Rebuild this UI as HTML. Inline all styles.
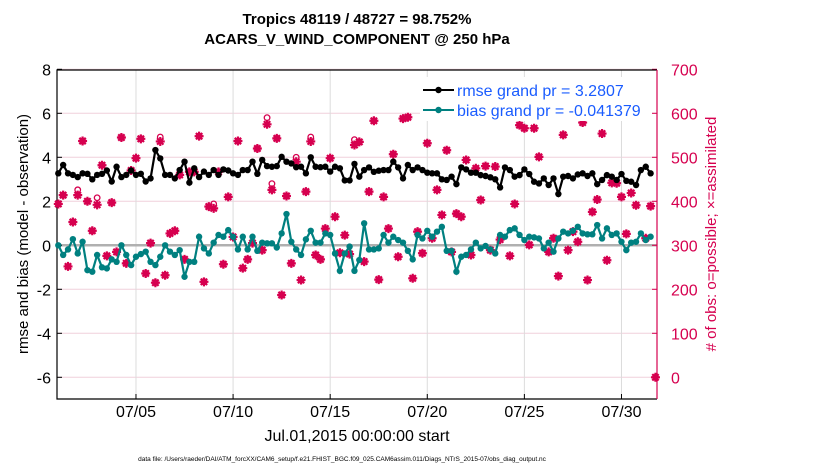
<!DOCTYPE html>
<html><head><meta charset="utf-8"><style>
body{margin:0;background:#fff;}
svg text{font-family:"Liberation Sans",sans-serif;}
</style></head><body>
<svg id="chart" width="830" height="470" xmlns="http://www.w3.org/2000/svg">
<rect width="830" height="470" fill="#fff"/>
<text x="357" y="24" font-size="15" font-weight="bold" text-anchor="middle">Tropics 48119 / 48727 = 98.752%</text>
<text x="357" y="44" font-size="15" font-weight="bold" text-anchor="middle">ACARS_V_WIND_COMPONENT @ 250 hPa</text>
<g id="grid"></g>
<g id="axes"></g>
<g id="marks"></g>
<text transform="translate(28,234) rotate(-90)" font-size="15" text-anchor="middle">rmse and bias (model - observation)</text>
<text transform="translate(716,234) rotate(-90)" font-size="15" fill="#d6004f" text-anchor="middle"># of obs: o=possible; ×=assimilated</text>
<text x="357" y="441" font-size="16" text-anchor="middle">Jul.01,2015 00:00:00 start</text>
<text x="342" y="461" font-size="6.5" text-anchor="middle">data file: /Users/raeder/DAI/ATM_forcXX/CAM6_setup/f.e21.FHIST_BGC.f09_025.CAM6assim.011/Diags_NTrS_2015-07/obs_diag_output.nc</text>
<g id="legend">
<rect x="420" y="77" width="232" height="44" fill="#fff"/>
<line x1="423" y1="90" x2="454" y2="90" stroke="#000" stroke-width="2"/>
<circle cx="438.5" cy="90" r="3.2" fill="#000"/>
<text x="457" y="96" font-size="16" fill="#1a5cff">rmse grand pr = 3.2807</text>
<line x1="423" y1="110" x2="454" y2="110" stroke="#008080" stroke-width="2"/>
<circle cx="438.5" cy="110" r="3.2" fill="#008080"/>
<text x="457" y="116" font-size="16" fill="#1a5cff">bias grand pr = -0.041379</text>
</g>
</svg>
<script>
const rmseValues=[3.27,3.65,3.27,3.2,3.1,3.27,3.25,3.0,3.2,3.25,3.4,2.9,3.57,3.1,3.2,3.4,3.2,3.25,2.9,3.04,4.33,3.95,3.2,3.2,3.04,3.42,3.8,2.85,3.5,3.1,3.35,3.2,3.42,3.2,3.45,3.4,3.27,3.2,3.42,3.42,3.8,3.25,3.88,3.6,3.57,3.6,4.02,3.8,3.72,3.55,3.57,3.27,4.0,3.57,3.55,3.57,3.35,3.57,3.5,2.95,2.95,3.7,
3.12,3.42,3.54,3.34,3.39,3.42,3.42,3.8,3.54,3.04,3.65,3.42,3.54,3.42,3.3,3.27,3.27,3.0,2.97,3.12,2.78,3.54,3.45,3.3,3.3,3.19,3.15,3.09,3.0,2.63,3.54,3.42,3.12,3.19,3.45,3.24,2.89,2.81,3.04,2.74,3.04,2.33,3.12,3.15,3.04,3.22,3.27,3.15,3.27,2.78,2.97,3.19,3.12,2.97,3.24,2.93,2.89,2.74,3.42,3.57,3.27];
const biasValues=[0.0,-0.44,-0.19,0.28,-0.37,0.16,-1.13,-1.2,-0.44,-1.0,-1.05,-0.64,-0.75,0.0,-0.44,-0.9,-0.52,-0.4,-0.29,-0.75,-0.9,-0.52,0.0,-0.29,-0.44,-0.22,-1.43,-0.75,-0.75,0.39,-0.14,-0.37,0.12,0.47,0.39,0.69,0.39,-0.19,0.39,-0.19,0.39,-0.25,0.12,0.09,0.09,-0.1,0.54,1.42,0.16,-0.19,-0.44,0.27,0.66,0.12,0.12,0.54,0.47,-0.37,-1.16,-0.37,-0.06,-1.16,
-0.67,1.0,-0.19,-0.19,-0.14,0.47,0.12,0.39,0.24,0.12,-0.25,-0.64,0.47,0.31,0.66,0.39,0.62,0.84,-0.25,-0.25,-1.2,-0.52,-0.44,-0.19,0.12,-0.14,-0.03,-0.19,-0.37,0.47,0.39,0.69,0.77,0.47,0.24,0.39,0.36,0.31,-0.14,0.12,-0.29,0.31,0.62,0.54,0.66,0.84,0.54,0.5,0.5,0.92,0.31,0.77,0.47,0.54,0.16,-0.22,0.12,0.16,0.54,0.24,0.39];
const obsPossible=[394,414,252,353,426,537,400,333,408,482,276,397,285,545,259,470,498,542,236,305,215,546,232,327,333,460,268,467,467,548,217,388,394,467,257,410,319,537,248,268,305,520,289,590,440,543,187,412,259,500,221,422,546,278,268,338,498,365,283,323,280,540,
535,263,422,583,222,410,338,507,274,588,591,225,331,282,532,316,426,369,516,285,372,365,494,278,475,403,480,289,479,313,623,276,394,573,566,301,566,501,600,285,316,230,551,289,331,308,579,221,376,404,554,266,442,441,410,326,419,391,630,316,389,0];
const obsAssimilated=[394,414,252,353,414,537,400,333,392,482,276,397,285,545,259,470,498,542,236,305,215,536,232,327,333,460,268,467,467,548,217,388,384,467,257,410,319,537,248,268,305,520,289,575,426,543,187,412,259,490,221,422,536,278,268,338,498,365,283,323,280,528,
535,263,422,583,222,410,338,507,274,588,591,225,331,282,532,316,426,369,516,285,372,365,494,278,475,403,480,289,479,313,623,276,394,573,566,301,566,501,600,285,316,230,551,289,331,308,579,221,376,404,554,266,442,441,410,326,419,391,630,316,389,0];
const leftTicks=[8,6,4,2,0,-2,-4,-6];
const rightTicks=[700,600,500,400,300,200,100,0];
const xTickDays=[4,9,14,19,24,29];
const xTickLabels=["07/05","07/10","07/15","07/20","07/25","07/30"];
const stepDays=0.25;

const NS="http://www.w3.org/2000/svg";
const L=57,R=657,T=70,B=399;
function xT(t){return 58.3+19.42*t;}
function yL(v){return 245.3-22*v;}
function yR(n){return 377.3-0.44*n;}
function mk(tag,attrs,parent){const e=document.createElementNS(NS,tag);for(const k in attrs)e.setAttribute(k,attrs[k]);parent.appendChild(e);return e;}
const grid=document.getElementById('grid'),axes=document.getElementById('axes'),marks=document.getElementById('marks');

leftTicks.forEach(v=>{
  const y=yL(v);
  const g=mk('line',{x1:L,x2:R,y1:y,y2:y,stroke:'#f0d0dc','stroke-width':1},grid);
  
  
  const tk=mk('line',{x1:L,x2:L+5,y1:y,y2:y,stroke:'#000'},axes);
  
  
  const tx=mk('text',{x:L-6,y:y+6,'font-size':16,'text-anchor':'end'},axes);
  tx.textContent=v;
  
  
});
rightTicks.forEach(n=>{
  const y=yR(n);
  const tk=mk('line',{x1:R-5,x2:R,y1:y,y2:y,stroke:'#d6004f'},axes);
  
  
  const tx=mk('text',{x:R+14,y:y+6,'font-size':16,fill:'#d6004f'},axes);
  tx.textContent=n;
  
  
});
xTickDays.forEach((d,i)=>{
  const x=xT(d);
  const g=mk('line',{x1:x,x2:x,y1:T,y2:B,stroke:'#dcdcdc'},grid);
  
  
  const tk=mk('line',{x1:x,x2:x,y1:B-5,y2:B,stroke:'#000'},axes);
  
  
  const tx=mk('text',{x:x,y:B+18,'font-size':16,'text-anchor':'middle'},axes);
  tx.textContent=xTickLabels[i];
  
  
});
const zl=mk('line',{x1:L,x2:R,y1:yL(0),y2:yL(0),stroke:'#b0b0b0','stroke-width':2.5},grid);


const ax1=mk('path',{d:`M${R},${T}H${L}V${B}H${R}`,fill:'none',stroke:'#000','stroke-width':1.2},axes);


const ax2=mk('line',{x1:R,x2:R,y1:T,y2:B,stroke:'#d6004f','stroke-width':1.2},axes);



obsPossible.forEach((n,i)=>{
  const x=xT(i*stepDays),y=yR(n);
  const c=mk('circle',{cx:x,cy:y,r:2.8,fill:'none',stroke:'#d6004f','stroke-width':1.3},marks);
  
  
});
obsAssimilated.forEach((n,i)=>{
  const x=xT(i*stepDays),y=yR(n),r=4.5;
  let d='';
  for(let a=0;a<4;a++){const an=a*Math.PI/4;const dx=r*Math.cos(an),dy=r*Math.sin(an);d+=`M${x-dx},${y-dy}L${x+dx},${y+dy}`;}
  const p=mk('path',{d:d,stroke:'#d6004f','stroke-width':2.2,fill:'none'},marks);
  
  
});
function series(vals,color,name){
  const pts=vals.map((v,i)=>xT(i*stepDays)+','+yL(v)).join(' ');
  const pl=mk('polyline',{points:pts,fill:'none',stroke:color,'stroke-width':2.2},marks);
  
  
  vals.forEach((v,i)=>{
    const c=mk('circle',{cx:xT(i*stepDays),cy:yL(v),r:3.2,fill:color},marks);
    
    
  });
}
series(rmseValues,'#000','rmse');
series(biasValues,'#008080','bias');
document.getElementById('chart').appendChild(document.getElementById('legend'));
</script>
</body></html>
